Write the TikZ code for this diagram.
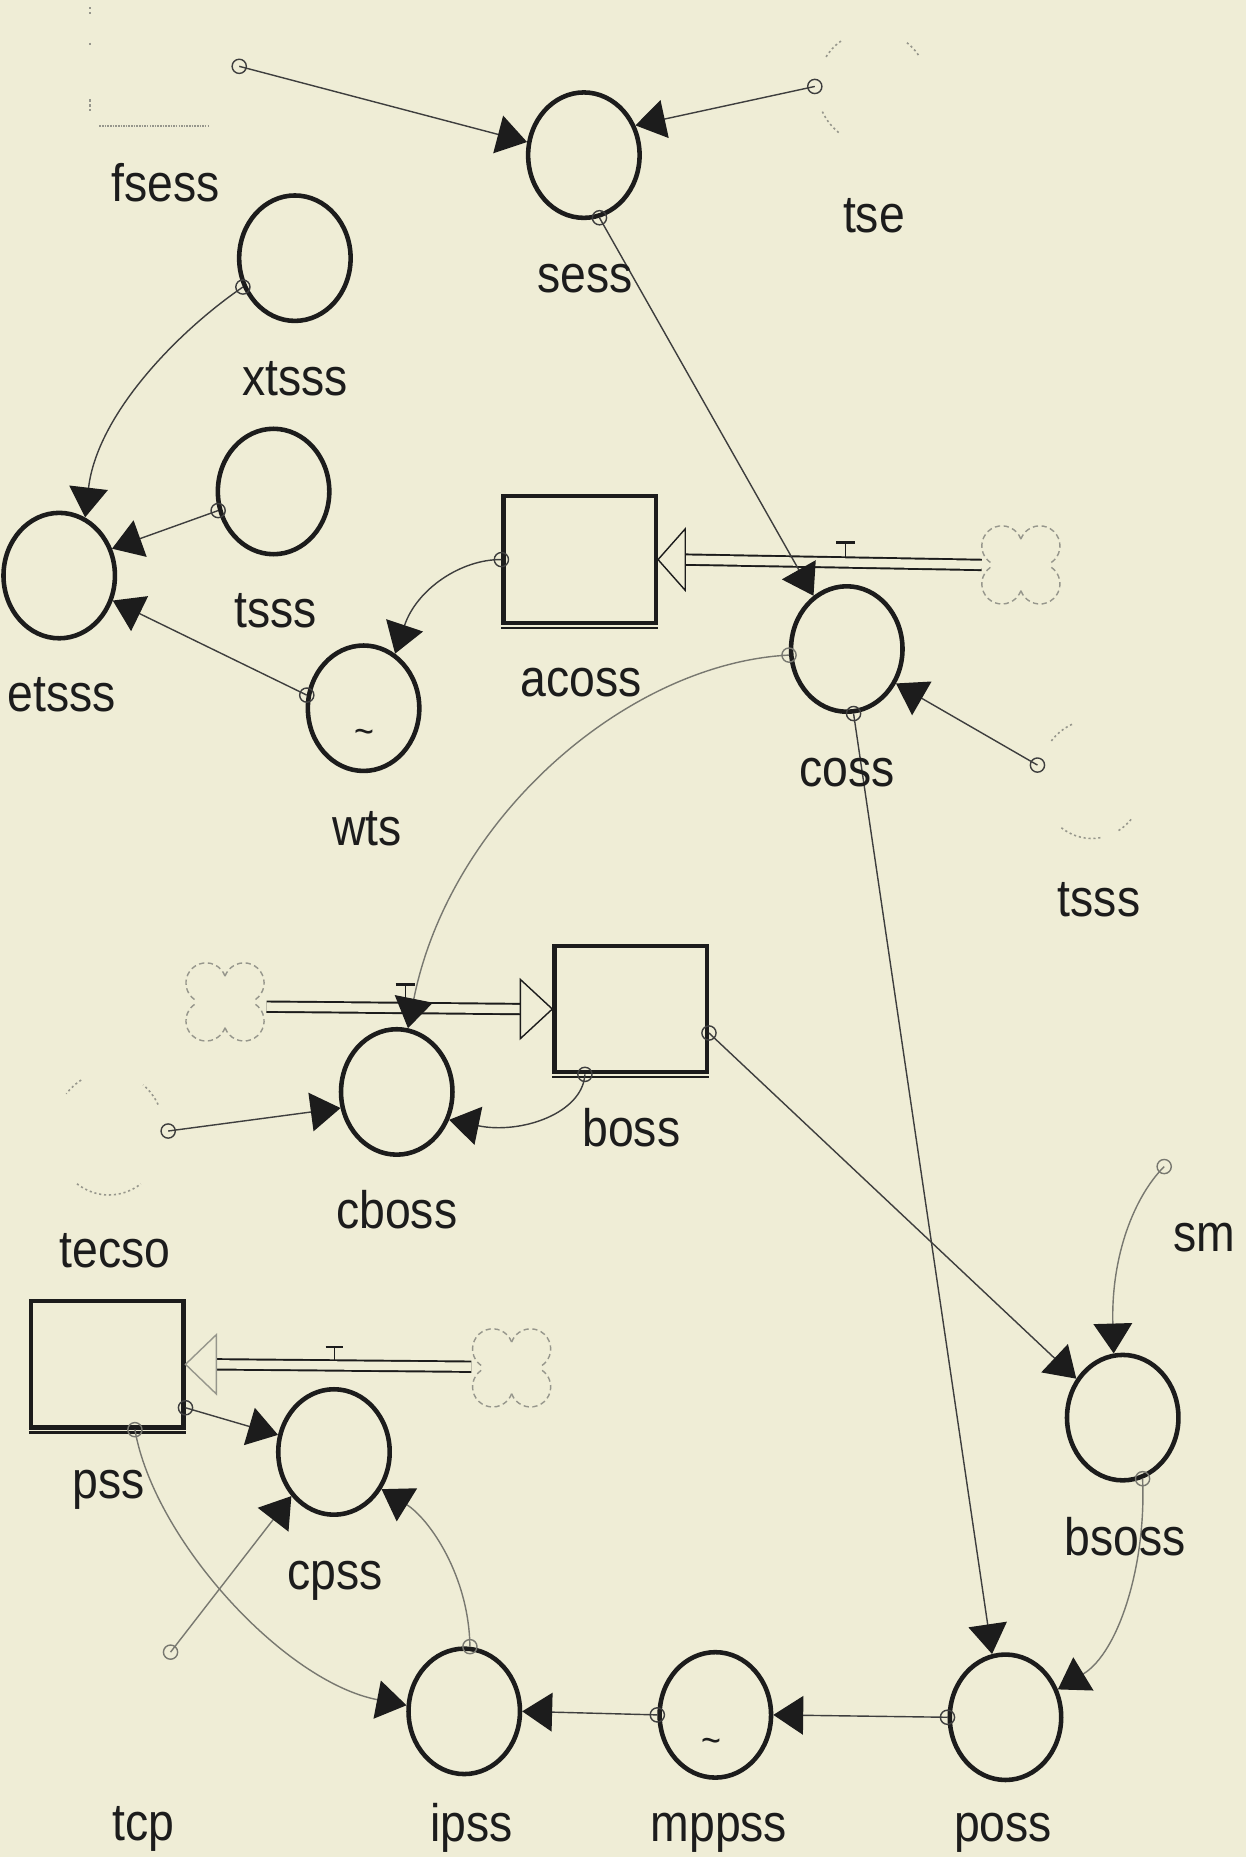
\documentclass[tikz,border=0pt]{standalone}
\usepackage{fontspec}
\newfontfamily\lblfont{Liberation Sans}[FakeStretch=0.88]
\usetikzlibrary{shapes.geometric,arrows.meta}

\definecolor{paper}{RGB}{239,237,214}
\definecolor{ink}{RGB}{28,28,28}
\definecolor{wire}{RGB}{62,62,62}
\definecolor{faint}{RGB}{150,150,140}

% dotted arc of a faded converter: centre x, centre y, x radius, y radius, from angle, to angle (page angles)
\newcommand\ghostarc[6]{\draw[ghost] (#1,#2) ++({-(#5)}:#3 and #4) arc[start angle={-(#5)}, end angle={-(#6)}, x radius=#3, y radius=#4];}
% source/sink cloud made of four lobes
\newcommand\flowcloud[2]{%
  \draw[cloudline] ({#1-16},{#2-16}) ++(-20:17) arc[start angle=-20, end angle=-235, radius=17];
  \draw[cloudline] ({#1+16},{#2-16}) ++(55:17) arc[start angle=55, end angle=-160, radius=17];
  \draw[cloudline] ({#1-16},{#2+16}) ++(-125:17) arc[start angle=-125, end angle=-340, radius=17];
  \draw[cloudline] ({#1+16},{#2+16}) ++(-200:17) arc[start angle=-200, end angle=-415, radius=17];}
% small ring where a connector leaves its source
\newcommand\ring[2][wire]{\draw[draw=#1, line width=0.8pt] (#2) circle[radius=6];}

\begin{document}
\begin{tikzpicture}[x=0.02369cm, y=-0.02369cm,
  conv/.style={ellipse, draw=ink, line width=2.6pt, minimum width=2.23cm, minimum height=2.51cm, inner sep=0pt},
  stock/.style={rectangle, draw=ink, line width=2.4pt, minimum width=3.05cm, minimum height=2.53cm, inner sep=0pt},
  lbl/.style={font=\lblfont\fontsize{30}{36}\selectfont, text=ink, anchor=base, inner sep=0pt},
  tilde/.style={font=\lblfont\fontsize{22}{24}\selectfont, text=ink, inner sep=0pt},
  conn/.style={draw=wire, line width=0.8pt, -{Triangle[length=17pt,width=22pt,color=ink]}},
  softconn/.style={conn, draw=faint!80!black},
  pipe/.style={draw=ink, line width=1.1pt, double=paper, double distance=4.8pt},
  head/.style={draw=ink, line width=0.8pt, fill=paper},
  valvebar/.style={draw=ink, line width=1.6pt},
  valvestem/.style={draw=ink, line width=0.5pt},
  ghost/.style={draw=faint, line width=0.9pt, dash pattern=on 1.2pt off 1.6pt},
  cloudline/.style={draw=faint, line width=0.8pt, dash pattern=on 3pt off 2pt}]

\fill[paper] (0,0) rectangle (1052,1568);
\useasboundingbox (0,0) rectangle (1052,1568);

% ---------- converters and stocks ----------
\node[conv]  (sess)  at (493,131)  {};
\node[conv]  (xtsss) at (249,218)  {};
\node[conv]  (tsss)  at (231,415)  {};
\node[conv]  (etsss) at (50,486)   {};
\node[conv]  (wts)   at (307,598)  {};
\node[stock] (acoss) at (489.5,472.5) {};
\node[conv]  (coss)  at (715,548)  {};
\node[stock] (boss)  at (532.5,852) {};
\node[conv]  (cboss) at (335,922)  {};
\node[conv]  (bsoss) at (948,1197) {};
\node[stock] (pss)   at (90.5,1152) {};
\node[conv]  (cpss)  at (282,1226) {};
\node[conv]  (ipss)  at (392,1445) {};
\node[conv]  (mppss) at (604,1448) {};
\node[conv]  (poss)  at (849,1450) {};

\node[tilde] (wtsmark)   at (308,622)  {\textasciitilde};
\node[tilde] (mppssmark) at (601,1474) {\textasciitilde};

% heavier lower edge of the stocks
\draw[ink, line width=1.4pt] ([yshift=-1.6pt]acoss.south west) -- ([yshift=-1.6pt]acoss.south east);
\draw[ink, line width=1.4pt] ([yshift=-1.6pt]boss.south west) -- ([yshift=-1.6pt]boss.south east);
\draw[ink, line width=1.4pt] ([yshift=-1.6pt]pss.south west) -- ([yshift=-1.6pt]pss.south east);

% ---------- faded converters (outside the sector) ----------
\coordinate (fsesso) at (202,56);
\coordinate (tseo)   at (688,73);
\coordinate (tsssbo) at (876,646);
\coordinate (tecsoo) at (142,955);
\coordinate (smo)    at (983,985);
\coordinate (tcpo)   at (144,1395);

\draw[ghost] (76,6) -- (76,14);
\draw[ghost] (76,36) -- (76,40);
\draw[ghost] (76,84) -- (76,95);
\draw[ghost, line width=1.1pt, dash pattern=on 0.9pt off 0.6pt] (84,106) -- (176,106);

\ghostarc{737}{74}{47}{48}{125}{148}
\ghostarc{737}{74}{47}{48}{35}{55}
\ghostarc{737}{74}{47}{48}{205}{235}

\ghostarc{922}{658}{45}{50}{112}{140}
\ghostarc{922}{658}{45}{50}{235}{280}
\ghostarc{922}{658}{45}{50}{300}{318}

\ghostarc{92}{957}{47}{52}{120}{140}
\ghostarc{92}{957}{47}{52}{28}{52}
\ghostarc{92}{957}{47}{52}{235}{305}

% ---------- flows ----------
\flowcloud{862}{477}
\coordinate (cloudA) at (829,477);
\draw[pipe] (cloudA) -- ([xshift=15.5pt]acoss.east);
\draw[head] (acoss.east) -- ++(23,-26) -- ++(0,52) -- cycle;
\draw[valvebar] (706,458) -- (722,458);
\draw[valvestem] (714,458) -- (714,471);

\flowcloud{190}{846}
\coordinate (cloudB) at (225,850);
\draw[pipe] (cloudB) -- ([xshift=-18pt]boss.west);
\draw[head] (boss.west) -- ++(-27,-25) -- ++(0,50) -- cycle;
\draw[valvebar] (334,831) -- (350,831);
\draw[valvestem] (342,831) -- (342,843);

\flowcloud{432}{1155}
\coordinate (cloudC) at (398,1154);
\draw[pipe] (cloudC) -- ([xshift=17.5pt]pss.east);
\draw[head, draw=faint] (pss.east) -- ++(26,-25) -- ++(0,50) -- cycle;
\draw[valvebar, line width=1.2pt] (275,1137) -- (290,1137);
\draw[valvestem] (282,1137) -- (282,1148);

% ---------- connectors ----------
\draw[conn] (fsesso) -- (sess.167);
\draw[conn] (tseo) -- (sess.30);
\draw[conn] (sess.-76) -- (coss.122);
\draw[conn] (xtsss.209) .. controls (150,280) and (82,350) .. (etsss.66);
\draw[conn] (tsss.199) -- (etsss.27);
\draw[conn] (wts.167) -- (etsss.-25);
\draw[conn] (acoss.west) .. controls (390,472) and (352,497) .. (wts.60);
\draw[softconn] (coss.186) .. controls (530,560) and (380,690) .. (cboss.80);
\draw[conn] (coss.-84) -- (poss.102);
\draw[conn] (tsssbo) -- (coss.-35);
\draw[conn] (boss.-125) .. controls (492,940) and (440,958) .. (cboss.-28);
\draw[conn] (tecsoo) -- (cboss.196);
\draw[conn] (boss.-17) -- (bsoss.140);
\draw[softconn] (smo) .. controls (958,1010) and (938,1060) .. (bsoss.98);
\draw[softconn] (bsoss.-72) .. controls (968,1320) and (945,1395) .. (poss.28);
\draw[conn] (pss.-29) -- (cpss.163);
\draw[softconn] (tcpo) -- (cpss.226);
\draw[softconn] (ipss.85) .. controls (396,1330) and (362,1282) .. (cpss.-38);
\draw[softconn] (pss.-67) .. controls (130,1300) and (240,1420) .. (ipss.174);
\draw[conn] (mppss.west) -- (ipss.east);
\draw[conn] (poss.west) -- (mppss.east);

% rings at the connector sources
\ring{fsesso} \ring{tseo} \ring{sess.-76} \ring{xtsss.209} \ring{tsss.199}
\ring{wts.167} \ring{acoss.west} \ring[faint!80!black]{coss.186} \ring{coss.-84}
\ring{tsssbo} \ring{boss.-125} \ring{tecsoo} \ring{boss.-17}
\ring[faint!80!black]{smo} \ring[faint!80!black]{bsoss.-72} \ring{pss.-29}
\ring[faint!80!black]{tcpo} \ring[faint!80!black]{ipss.85} \ring[faint!80!black]{pss.-67}
\ring{mppss.west} \ring{poss.west}

% ---------- labels ----------
\node[lbl] (fsessL) at (140,170)  {fsess};
\node[lbl] (sessL)  at (494,247)  {sess};
\node[lbl] (tseL)   at (738,196)  {tse};
\node[lbl] (xtsssL) at (249,334)  {xtsss};
\node[lbl] (tsssL)  at (233,530)  {tsss};
\node[lbl] (etsssL) at (52,601)   {etsss};
\node[lbl] (acossL) at (491,588)  {acoss};
\node[lbl] (wtsL)   at (310,714)  {wts};
\node[lbl] (cossL)  at (715,664)  {coss};
\node[lbl] (tsssbL) at (928,774)  {tsss};
\node[lbl] (bossL)  at (533,968)  {boss};
\node[lbl] (cbossL) at (335,1037) {cboss};
\node[lbl] (tecsoL) at (97,1070)  {tecso};
\node[lbl] (smL)    at (1017,1057) {sm};
\node[lbl] (pssL)   at (92,1265)  {pss};
\node[lbl] (cpssL)  at (283,1342) {cpss};
\node[lbl] (bsossL) at (950,1313) {bsoss};
\node[lbl] (tcpL)   at (121,1554) {tcp};
\node[lbl] (ipssL)  at (398,1555) {ipss};
\node[lbl] (mppssL) at (607,1555) {mppss};
\node[lbl] (possL)  at (847,1555) {poss};
\end{tikzpicture}
\end{document}
